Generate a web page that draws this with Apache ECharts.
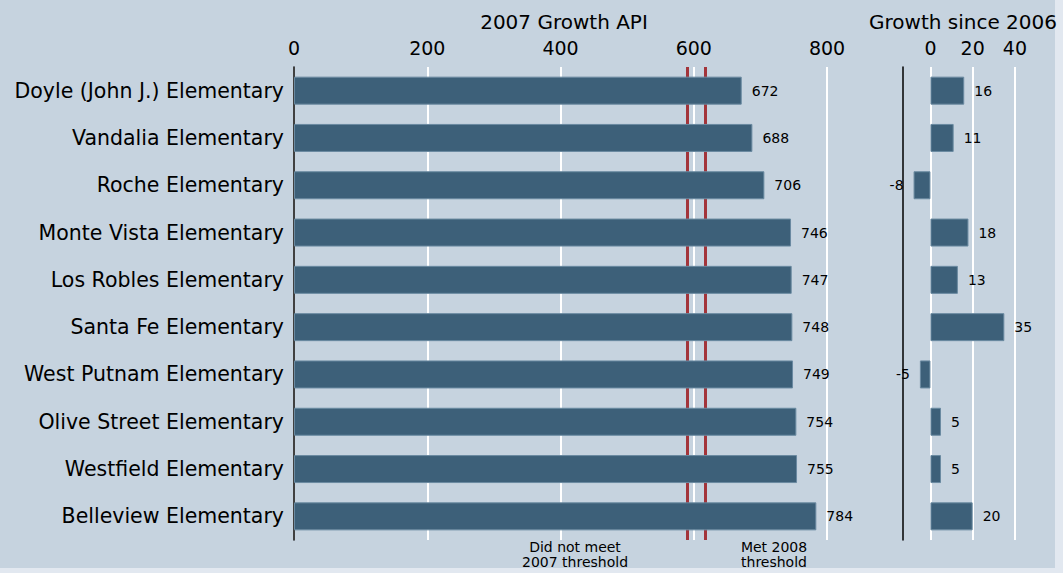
<!DOCTYPE html>
<html>
<head>
<meta charset="utf-8">
<script src="https://cdn.jsdelivr.net/npm/echarts@6/dist/echarts.min.js"></script>
<style>
  html, body { margin: 0; padding: 0; background: #e2e8f0; }
  #chart { width: 1063px; height: 573px; }
</style>
</head>
<body>
<div id="chart"></div>
<script>
// schools, top to bottom
var schools = [
  'Doyle (John J.) Elementary',
  'Vandalia Elementary',
  'Roche Elementary',
  'Monte Vista Elementary',
  'Los Robles Elementary',
  'Santa Fe Elementary',
  'West Putnam Elementary',
  'Olive Street Elementary',
  'Westfield Elementary',
  'Belleview Elementary'
];
var api2007 = [672, 688, 706, 746, 747, 748, 749, 754, 755, 784];
var growth = [16, 11, -8, 18, 13, 35, -5, 5, 5, 20];
var growthTicks = [0, 20, 40];
var thresholds = [590, 618];
var noteLeft = ['Did not meet', '2007 threshold'];
var noteRight = ['Met 2008', 'threshold'];
var titles = ['2007 Growth API', 'Growth since 2006'];

var font = 'DejaVu Sans';
var barColor = '#3d6079';

var chart = echarts.init(document.getElementById('chart'), null, { renderer: 'svg' });

var growthData = growth.map(function (v) {
  return { value: v, label: { position: v < 0 ? 'left' : 'right' } };
});

// two-line notes under the threshold lines, one text per line
function noteText(x, lines) {
  return lines.map(function (s, i) {
    return {
      type: 'text', x: x, y: 540 + i * 15,
      style: { text: s, font: '14px "DejaVu Sans"', fill: '#000', textAlign: 'center' }
    };
  });
}

var option = {
  backgroundColor: '#e2e8f0',
  animation: false,
  textStyle: { fontFamily: font, color: '#000' },
  graphic: [
    {
      type: 'rect', z: -100, silent: true,
      shape: { x: 0, y: 0, width: 1055, height: 568 },
      style: { fill: '#c6d3df' }
    },
    {
      type: 'text', x: 564, y: 12,
      style: { text: titles[0], font: '20px "DejaVu Sans"', fill: '#000', textAlign: 'center' }
    },
    {
      type: 'text', x: 963, y: 12,
      style: { text: titles[1], font: '20px "DejaVu Sans"', fill: '#000', textAlign: 'center' }
    }
  ].concat(noteText(575, noteLeft), noteText(774, noteRight)),
  grid: [
    { left: 294, top: 67, width: 533, height: 473 },
    { left: 903, top: 67, width: 133, height: 473 }
  ],
  xAxis: [
    {
      gridIndex: 0, type: 'value', position: 'top',
      min: 0, max: 800, interval: 200,
      axisLine: { show: false },
      axisTick: { show: false },
      axisLabel: { fontSize: 19, color: '#000', margin: 10, fontFamily: font },
      splitLine: { lineStyle: { color: '#fff', width: 2 } }
    },
    {
      gridIndex: 1, type: 'value', position: 'top',
      min: -13, max: 50,
      axisLine: { show: false },
      axisTick: { show: false, customValues: growthTicks },
      axisLabel: { fontSize: 19, color: '#000', margin: 10, fontFamily: font, customValues: growthTicks },
      splitLine: { lineStyle: { color: '#fff', width: 2 } }
    }
  ],
  yAxis: [
    {
      gridIndex: 0, type: 'category', inverse: true, data: schools,
      axisLine: { onZero: false, lineStyle: { color: '#000', width: 1.5 } },
      axisTick: { show: false },
      axisLabel: { fontSize: 20.5, color: '#000', margin: 10, fontFamily: font }
    },
    {
      gridIndex: 1, type: 'category', inverse: true, data: schools,
      axisLine: { onZero: false, lineStyle: { color: '#000', width: 1.5 } },
      axisTick: { show: false },
      axisLabel: { show: false }
    }
  ],
  series: [
    {
      name: '2007 Growth API', type: 'bar',
      xAxisIndex: 0, yAxisIndex: 0,
      data: api2007, barWidth: 28,
      itemStyle: { color: barColor, borderColor: '#6a8aa1', borderWidth: 1 },
      label: { show: true, position: 'right', distance: 10, fontSize: 14, color: '#000', fontFamily: font },
      markLine: {
        z: 1, silent: true, symbol: 'none',
        label: { show: false },
        lineStyle: { color: '#a3343a', width: 3, type: 'solid' },
        data: thresholds.map(function (t) { return { xAxis: t }; })
      }
    },
    {
      name: 'Growth since 2006', type: 'bar',
      xAxisIndex: 1, yAxisIndex: 1,
      data: growthData, barWidth: 28,
      itemStyle: { color: barColor, borderColor: '#6a8aa1', borderWidth: 1 },
      label: { show: true, distance: 10, fontSize: 14, color: '#000', fontFamily: font }
    }
  ]
};

chart.setOption(option);
</script>
</body>
</html>
